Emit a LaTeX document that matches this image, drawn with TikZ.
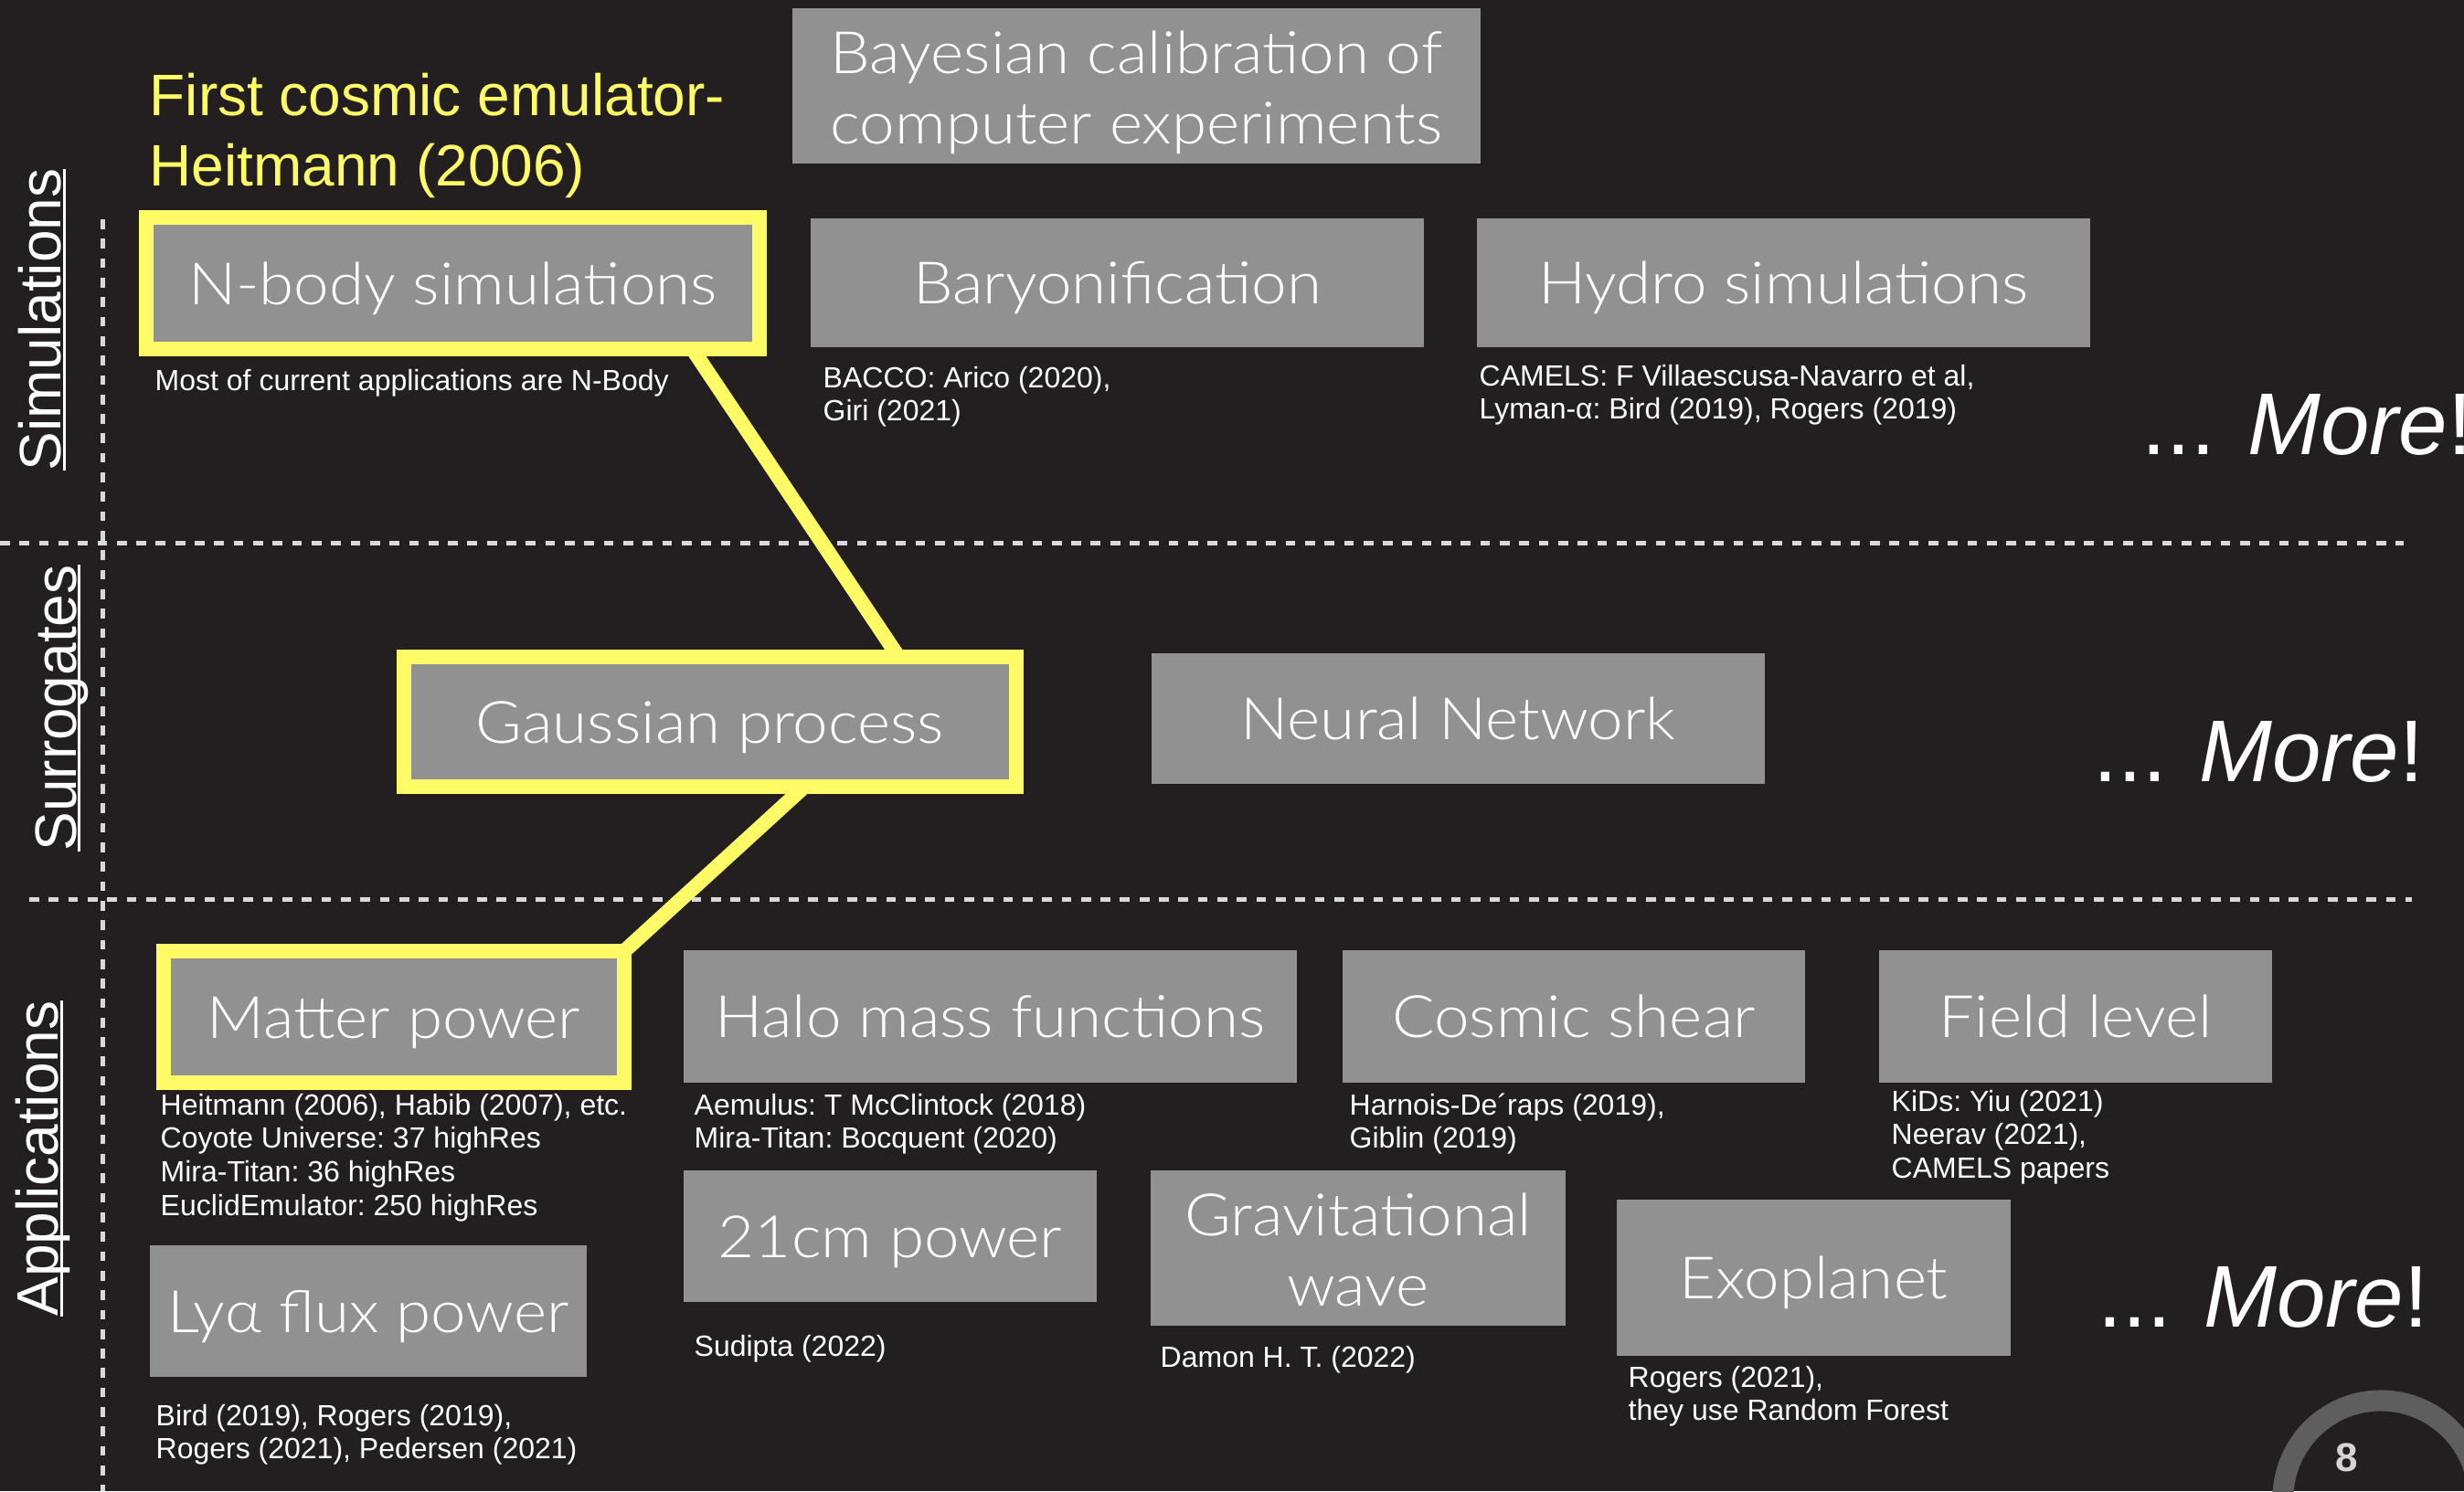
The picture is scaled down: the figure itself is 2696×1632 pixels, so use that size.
\documentclass[tikz,border=0pt]{standalone}
\usepackage{fontspec}
\setmainfont{Liberation Sans}
\newfontfamily\boxfont{Lato Light}[FakeStretch=1.08]
\usetikzlibrary{calc}
\frenchspacing

\definecolor{bg}{HTML}{231F20}
\definecolor{boxgray}{HTML}{919191}
\definecolor{hlyellow}{HTML}{FFFB66}
\definecolor{sepgray}{HTML}{D9D9D9}
\definecolor{ringgray}{HTML}{5E5E5E}
\definecolor{numgray}{HTML}{D4D4D4}

% several left-aligned lines whose baseline is that of the first line
\newcommand\reflines[1]{\vtop{\halign{##\hfil\cr#1\crcr}}}
% two centred lines whose baseline is that of the second line
\newcommand\twolines[2]{\vbox{\halign{\hfil##\hfil\cr#1\cr#2\cr}}}
% underlined side heading, the rule sits just under the baseline
\newlength\ulwd
\newcommand\ulabel[1]{\settowidth\ulwd{#1}\makebox[0pt][l]{\rule[-1.4pt]{\ulwd}{0.8pt}}#1}

\begin{document}
\begin{tikzpicture}[x=0.01cm,y=-0.01cm,
  gbox/.style={fill=boxgray, text=white, inner sep=0pt, outer sep=0pt,
    text height=13.6pt, text depth=0.4pt,
    font=\boxfont\fontsize{18.2pt}{21.9pt}\selectfont},
  twoline/.style={text height=36.6pt, text depth=0.4pt},
  hl/.style={draw=hlyellow, line width=0.16cm},
  link/.style={draw=hlyellow, line width=0.16cm},
  sep/.style={draw=sepgray, line width=0.05cm, dash pattern=on 0.107cm off 0.106cm},
  refs/.style={anchor=base west, inner sep=0pt, text=white,
    font=\fontsize{9.1pt}{10.5pt}\selectfont},
  title/.style={anchor=base west, inner sep=0pt, text=hlyellow,
    font=\fontsize{18.2pt}{21.9pt}\selectfont},
  side/.style={rotate=90, anchor=base, inner sep=0pt, text=white,
    font=\fontsize{18.2pt}{22pt}\selectfont},
  more/.style={anchor=base west, inner sep=0pt, text=white,
    font=\fontsize{27.3pt}{32pt}\selectfont\nonfrenchspacing},
]
% canvas
\fill[bg] (0,0) rectangle (2696,1632);
\useasboundingbox (0,0) rectangle (2696,1632);

% band separators
\draw[sep] (0,594) -- (2630,594);
\draw[sep] (32,984) -- (2639,984);
\draw[sep] (112.5,240) -- (112.5,1632);

% band headings
\node[side] (hsim) at (67,350) {\ulabel{Simulations}};
\node[side] (hsur) at (83,775) {\ulabel{Surrogates}};
\node[side] (happ) at (64,1268) {\ulabel{Applications}};

% top note
\node[title] (first) at (163,126) {\reflines{First cosmic emulator-\cr Heitmann (2006)}};
\node[gbox, twoline, minimum width=7.53cm, minimum height=1.70cm] (bayes) at (1243.5,94)
  {\twolines{Bayesian calibration of}{computer experiments}};

% simulations
\node[gbox, hl, minimum width=6.71cm, minimum height=1.44cm] (nbody) at (495.5,310) {N-body simulations};
\node[gbox, minimum width=6.71cm, minimum height=1.41cm] (baryon) at (1222.5,309.5) {Baryonification};
\node[gbox, minimum width=6.71cm, minimum height=1.41cm] (hydro) at (1951.5,309.5) {Hydro simulations};
\node[refs] (nbodyref) at (169,427) {Most of current applications are N-Body};
\node[refs] (baryonref) at (900,424) {\reflines{BACCO: Arico (2020),\cr Giri (2021)}};
\node[refs] (hydroref) at (1618,422) {\reflines{CAMELS: F Villaescusa-Navarro et al,\cr Lyman-α: Bird (2019), Rogers (2019)}};
\node[more] (more1) at (2343,497) {... \textit{More}!};

% surrogates
\node[gbox, hl, minimum width=6.70cm, minimum height=1.42cm] (gauss) at (777,790) {Gaussian process};
\node[gbox, minimum width=6.71cm, minimum height=1.43cm] (nn) at (1595.5,786.5) {Neural Network};
\node[more] (more2) at (2290,855) {... \textit{More}!};

% applications
\node[gbox, hl, minimum width=5.04cm, minimum height=1.44cm] (mpow) at (431,1113) {Matter power};
\node[gbox, minimum width=6.71cm, minimum height=1.45cm] (halo) at (1083.5,1112.5) {Halo mass functions};
\node[gbox, minimum width=5.065cm, minimum height=1.45cm] (shear) at (1722,1112.5) {Cosmic shear};
\node[gbox, minimum width=4.30cm, minimum height=1.45cm] (field) at (2271,1112.5) {Field level};
\node[gbox, minimum width=4.52cm, minimum height=1.44cm] (cm21) at (974,1353) {21cm power};
\node[gbox, twoline, minimum width=4.54cm, minimum height=1.70cm] (gw) at (1486,1366) {\twolines{Gravitational}{wave}};
\node[gbox, minimum width=4.30cm, minimum height=1.71cm] (exo) at (1984.5,1398.5) {Exoplanet};
\node[gbox, minimum width=4.78cm, minimum height=1.44cm] (lya) at (403,1435) {Lyα flux power};

\node[refs] (mpowref) at (175,1220) {\reflines{Heitmann (2006), Habib (2007), etc.\cr Coyote Universe: 37 highRes\cr Mira-Titan: 36 highRes\cr EuclidEmulator: 250 highRes}};
\node[refs] (haloref) at (759,1220) {\reflines{Aemulus: T McClintock (2018)\cr Mira-Titan: Bocquent (2020)}};
\node[refs] (shearref) at (1476,1220) {\reflines{Harnois-De´raps (2019),\cr Giblin (2019)}};
\node[refs] (fieldref) at (2069,1216) {\reflines{KiDs: Yiu (2021)\cr Neerav (2021),\cr CAMELS papers}};
\node[refs] (cm21ref) at (759,1484) {Sudipta (2022)};
\node[refs] (gwref) at (1269,1496) {Damon H. T. (2022)};
\node[refs] (exoref) at (1781,1518) {\reflines{Rogers (2021),\cr they use Random Forest}};
\node[refs] (lyaref) at (170,1560) {\reflines{Bird (2019), Rogers (2019),\cr Rogers (2021), Pedersen (2021)}};
\node[more] (more3) at (2295,1452) {... \textit{More}!};

% highlighted chain
\draw[link] ([xshift=2.62cm]nbody.south) -- ([xshift=2.06cm]gauss.north);
\draw[link] ([xshift=1.03cm]gauss.south) -- (mpow.north east);

% page number
\draw[ringgray, line width=0.23cm] (2605,1640) circle[radius=1.07cm];
\node[text=numgray, inner sep=0pt, font=\bfseries\fontsize{12.5pt}{14pt}\selectfont] (pagenum) at (2568,1595) {8};
\end{tikzpicture}
\end{document}
